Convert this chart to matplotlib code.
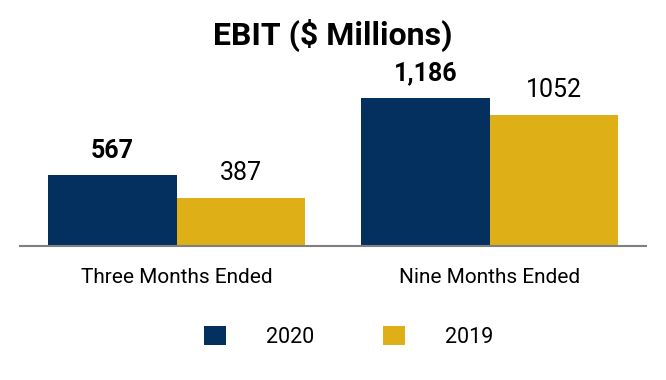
import matplotlib.pyplot as plt
import numpy as np

plt.rcParams['font.family'] = ['Roboto', 'DejaVu Sans']

categories = ["Three Months Ended", "Nine Months Ended"]
series_names = ["2020", "2019"]
values_2020 = [567, 1186]
values_2019 = [387, 1052]
labels_2020 = ["567", "1,186"]
labels_2019 = ["387", "1052"]

NAVY = "#04305F"
GOLD = "#DEAF17"

fig = plt.figure(figsize=(6.66, 3.8), dpi=100)
ax = fig.add_axes([20 / 666, 134 / 380, 626 / 666, 175 / 380])

x = np.arange(len(categories))
w = 0.409
b1 = ax.bar(x - w / 2, values_2020, w, color=NAVY, label=series_names[0])
b2 = ax.bar(x + w / 2, values_2019, w, color=GOLD, label=series_names[1])

for rect, txt in zip(b1, labels_2020):
    ax.annotate(txt, (rect.get_x() + rect.get_width() / 2, rect.get_height()),
                xytext=(0, 9), textcoords='offset points', ha='center', va='bottom',
                fontsize=18, fontweight='bold', color='black')
for rect, txt in zip(b2, labels_2019):
    ax.annotate(txt, (rect.get_x() + rect.get_width() / 2, rect.get_height()),
                xytext=(0, 9), textcoords='offset points', ha='center', va='bottom',
                fontsize=18, color='black')

ax.set_xlim(-0.5, 1.5)
ax.set_ylim(0, 1400)
ax.set_xticks(x)
ax.set_xticklabels(categories, fontsize=15)
ax.tick_params(axis='x', length=0, pad=16)
ax.set_yticks([])
for s in ['top', 'right', 'left']:
    ax.spines[s].set_visible(False)
ax.spines['bottom'].set_color('#808080')
ax.spines['bottom'].set_linewidth(1.5)

fig.text(0.5, 1 - 35 / 380, "EBIT ($ Millions)", ha='center', va='center',
         fontsize=23, fontweight='bold')

fig.legend(handles=[b1, b2], loc='center', bbox_to_anchor=(349 / 666, 1 - 337 / 380),
           ncol=2, frameon=False, fontsize=15.5, handlelength=1.02, handleheight=1.02,
           handletextpad=1.86, columnspacing=3.2)

fig.savefig("out.png", dpi=100)
